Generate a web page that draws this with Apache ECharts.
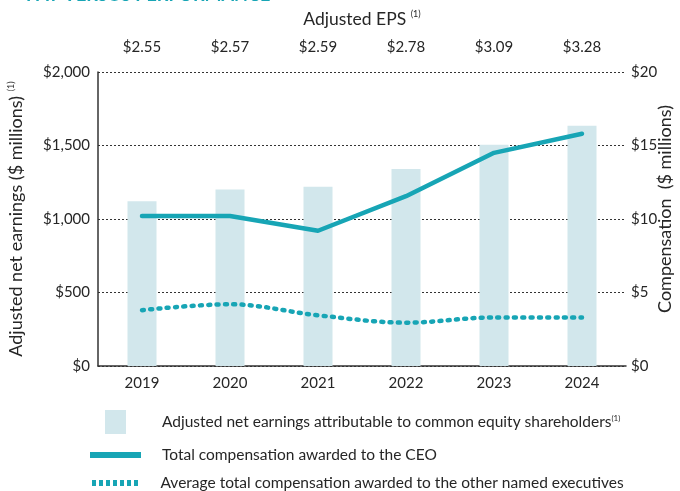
<!DOCTYPE html>
<html>
<head>
<meta charset="utf-8">
<script src="https://cdn.jsdelivr.net/npm/echarts@6/dist/echarts.min.js"></script>
<style>
  html, body { margin: 0; padding: 0; background: #fff; }
  #chart { width: 680px; height: 491px; }
</style>
</head>
<body>
<div id="chart"></div>
<script>
const years = ['2019', '2020', '2021', '2022', '2023', '2024']
const epsLabels = ['$2.55', '$2.57', '$2.59', '$2.78', '$3.09', '$3.28']
const netEarnings = [1120, 1200, 1220, 1340, 1505, 1635]
const ceoComp = [10.2, 10.2, 9.2, 11.55, 14.5, 15.8]
const otherComp = [3.8, 4.2, 3.45, 2.95, 3.3, 3.3]

const barName = 'Adjusted net earnings attributable to common equity shareholders'
const ceoName = 'Total compensation awarded to the CEO'
const otherName = 'Average total compensation awarded to the other named executives'

const teal = '#17a5b5'
const barColor = '#d2e7ec'
const textColor = '#262626'
const font = 'Lato'

const chart = echarts.init(document.getElementById('chart'))

const nameRich = {
    a: { fontSize: 18, color: textColor, fontFamily: font },
    s: { fontSize: 9, color: textColor, fontFamily: font, verticalAlign: 'top', padding: [0, 0, 9, 0] }
}
const epsRich = {
    a: { fontSize: 17.5, color: textColor, fontFamily: font },
    s: { fontSize: 9, color: textColor, fontFamily: font, verticalAlign: 'top', padding: [0, 0, 9, 0] }
}
const legendRich = {
    a: { fontSize: 15.5, color: textColor, fontFamily: font },
    s: { fontSize: 8, color: textColor, fontFamily: font, verticalAlign: 'top', padding: [0, 0, 8, 0] }
}

// legend icons sit at the left of each item box, text follows after (itemWidth - iconWidth) / 2 + 5
const legendBase = {
    padding: 0,
    symbolKeepAspect: true,
    selectedMode: false,
    textStyle: { fontSize: 15.5, color: textColor, fontFamily: font, rich: legendRich }
}

const option = {
    animation: false,
    textStyle: { fontFamily: font },
    title: {
        text: 'PAY VERSUS PERFORMANCE',
        left: 21,
        top: -19,
        textStyle: { color: teal, fontSize: 18, fontWeight: 'bold', fontFamily: font }
    },
    grid: { left: 98, right: 54, top: 72, bottom: 125, outerBoundsMode: 'none' },
    legend: [
        Object.assign({}, legendBase, {
            left: 105,
            top: 410,
            itemWidth: 83,
            itemHeight: 24,
            data: [{ name: barName, icon: 'path://M0,0h21v24h-21z', itemStyle: { color: barColor } }],
            formatter: n => '{a|' + n + '}{s|(1)}'
        }),
        Object.assign({}, legendBase, {
            left: 90,
            top: 447,
            itemWidth: 83,
            itemHeight: 6,
            data: [{ name: ceoName, icon: 'path://M0,0h51v6h-51z', itemStyle: { color: teal } }]
        }),
        Object.assign({}, legendBase, {
            left: 92,
            top: 475,
            itemWidth: 81,
            itemHeight: 6,
            data: [{
                name: otherName,
                icon: 'path://M0,0h4v6h-4z M7,0h4v6h-4z M14,0h4v6h-4z M21,0h4v6h-4z M28,0h4v6h-4z M35,0h4v6h-4z M42,0h4v6h-4z',
                itemStyle: { color: teal }
            }]
        })
    ],
    xAxis: [
        {
            type: 'category',
            data: years,
            position: 'bottom',
            axisLine: { lineStyle: { color: '#333', width: 1.5 } },
            axisTick: { show: false },
            axisLabel: { fontSize: 15, color: textColor, margin: 10, fontFamily: font }
        },
        {
            type: 'category',
            data: epsLabels,
            position: 'top',
            axisLine: { show: false },
            axisTick: { show: false },
            axisLabel: { fontSize: 15, color: textColor, margin: 17, fontFamily: font },
            name: '{a|Adjusted EPS }{s|(1)}',
            nameLocation: 'middle',
            nameGap: 44,
            nameMoveOverlap: false,
            nameTextStyle: { rich: epsRich }
        }
    ],
    yAxis: [
        {
            type: 'value',
            min: 0,
            max: 2000,
            interval: 500,
            position: 'left',
            axisLine: { show: true, lineStyle: { color: '#333', width: 1.5 } },
            axisTick: { show: false },
            axisLabel: {
                fontSize: 15, color: textColor, margin: 8, fontFamily: font,
                formatter: v => '$' + v.toLocaleString('en-US')
            },
            splitLine: { lineStyle: { color: '#333', type: [2, 2], width: 1 } },
            name: '{a|Adjusted net earnings ($ millions) }{s|(1)}',
            nameLocation: 'middle',
            nameGap: 73,
            nameMoveOverlap: false,
            nameTextStyle: { rich: nameRich }
        },
        {
            type: 'value',
            min: 0,
            max: 20,
            interval: 5,
            position: 'right',
            axisLine: { show: false },
            axisTick: { show: false },
            axisLabel: {
                fontSize: 15, color: textColor, margin: 5, fontFamily: font,
                formatter: v => '$' + v
            },
            splitLine: { show: false },
            name: 'Compensation  ($ millions)',
            nameLocation: 'middle',
            nameGap: 30,
            nameRotate: 90,
            nameMoveOverlap: false,
            nameTextStyle: { fontSize: 18, color: textColor, fontFamily: font, padding: [0, 0, 0, 20] }
        }
    ],
    series: [
        {
            name: barName,
            type: 'bar',
            data: netEarnings,
            barWidth: 29,
            itemStyle: { color: barColor },
            xAxisIndex: 0,
            yAxisIndex: 0
        },
        {
            name: ceoName,
            type: 'line',
            data: ceoComp,
            yAxisIndex: 1,
            symbol: 'none',
            lineStyle: { color: teal, width: 4.5, cap: 'round', join: 'round' },
            itemStyle: { color: teal }
        },
        {
            name: otherName,
            type: 'line',
            data: otherComp,
            yAxisIndex: 1,
            symbol: 'none',
            smooth: 0.35,
            lineStyle: { color: teal, width: 4.5, type: [2, 6.3], cap: 'round' },
            itemStyle: { color: teal }
        }
    ]
}

chart.setOption(option)
window.addEventListener('resize', () => chart.resize())
</script>
</body>
</html>
